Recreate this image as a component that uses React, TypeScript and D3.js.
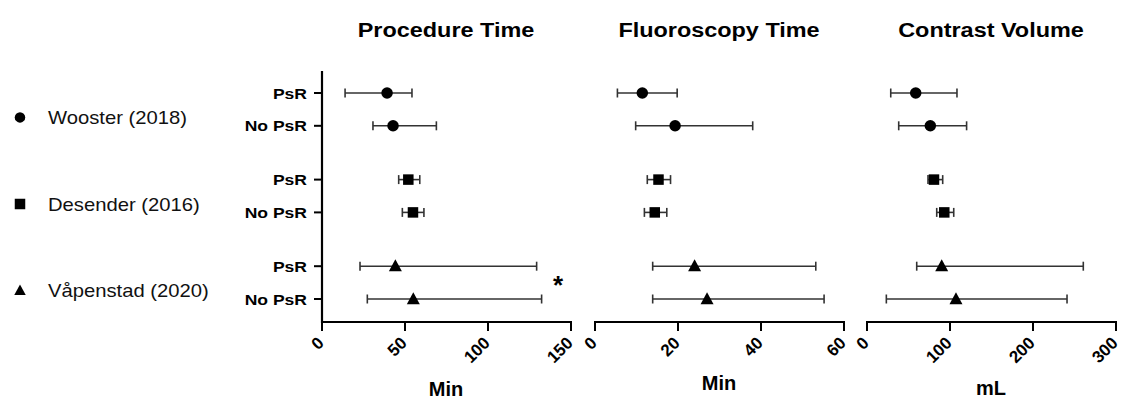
import React from "react";
import * as d3 from "d3";

const studies = ["Wooster (2018)", "Desender (2016)", "Våpenstad (2020)"];
const markerShapes = ["circle", "square", "triangle"];
const arms = ["PsR", "No PsR"];

const panelTitles = ["Procedure Time", "Fluoroscopy Time", "Contrast Volume"];
const axisTitles = ["Min", "Min", "mL"];
const panelMax = [150, 60, 300];
const panelTicks = [
  [0, 50, 100, 150],
  [0, 20, 40, 60],
  [0, 100, 200, 300],
];

// each row: [low, mean, high]; order: Wooster PsR, Wooster No PsR, Desender PsR, Desender No PsR, Våpenstad PsR, Våpenstad No PsR
const procedureTime = [
  [13.9, 39.2, 54.2],
  [30.7, 42.8, 68.9],
  [46.2, 52, 58.9],
  [48.4, 54.8, 61.4],
  [22.9, 44.2, 129.3],
  [27.3, 55, 132.3],
];
const fluoroscopyTime = [
  [5.4, 11.4, 19.8],
  [9.8, 19.3, 38],
  [12.6, 15.3, 18.2],
  [11.9, 14.4, 17.3],
  [13.9, 24, 53.2],
  [13.9, 27, 55.2],
];
const contrastVolume = [
  [28.6, 58.7, 108.4],
  [38.2, 76.3, 120],
  [73.5, 80.7, 91.2],
  [84, 93.1, 104.5],
  [59.9, 90, 260.6],
  [23.3, 107.2, 241],
];
const panelData = [procedureTime, fluoroscopyTime, contrastVolume];

const W = 1122;
const H = 401;
const panelX = [
  [322, 571],
  [595, 844],
  [867, 1116],
];
const axisY = 322;
const GROUP_STEP = 2.64;
const FONT = "'Liberation Sans', Arial, Helvetica, sans-serif";

const rowPos = (g: number, s: number) => g * GROUP_STEP + s;
const yScale = d3
  .scaleLinear()
  .domain([0, rowPos(2, 1)])
  .range([93, 299]);

function Marker({ shape, x, y, size }: { shape: string; x: number; y: number; size: number }) {
  if (shape === "circle") return <circle cx={x} cy={y} r={size / 2} fill="#000" />;
  if (shape === "square")
    return <rect x={x - size / 2} y={y - size / 2} width={size} height={size} fill="#000" />;
  const h = size * 0.95;
  return (
    <path
      d={`M${x},${y - h * 0.6} L${x + size / 2 + 0.5},${y + h * 0.45} L${x - size / 2 - 0.5},${y + h * 0.45} Z`}
      fill="#000"
    />
  );
}

export default function App() {
  const rows: { g: number; s: number }[] = [];
  studies.forEach((_, g) => arms.forEach((__, s) => rows.push({ g, s })));

  return (
    <svg
      width={W}
      height={H}
      style={{ position: "absolute", left: 0, top: 0, background: "#fff" }}
      fontFamily={FONT}
    >
      {/* Legend */}
      {studies.map((st, g) => {
        const cy = (yScale(rowPos(g, 0)) + yScale(rowPos(g, 1))) / 2 + 8;
        return (
          <g key={st}>
            <Marker shape={markerShapes[g]} x={20} y={cy} size={10.5} />
            <text
              transform={`translate(48,${cy + 6.5}) scale(1.15,1)`}
              fontSize={17.6}
              fill="#111"
            >
              {st}
            </text>
          </g>
        );
      })}

      {/* Y axis of first panel */}
      <line x1={panelX[0][0]} x2={panelX[0][0]} y1={71} y2={axisY + 1} stroke="#000" strokeWidth={2.2} />
      {rows.map(({ g, s }) => {
        const y = yScale(rowPos(g, s));
        return (
          <g key={`yt${g}${s}`}>
            <line x1={panelX[0][0] - 8} x2={panelX[0][0]} y1={y} y2={y} stroke="#000" strokeWidth={2} />
            <text
              transform={`translate(${panelX[0][0] - 15},${y + 5.5}) scale(1.17,1)`}
              textAnchor="end"
              fontSize={15}
              fontWeight="bold"
              fill="#000"
            >
              {arms[s]}
            </text>
          </g>
        );
      })}

      {panelData.map((data, p) => {
        const x = d3.scaleLinear().domain([0, panelMax[p]]).range(panelX[p]);
        const mid = [446, 719, 991][p];
        const axisTitleY = [396, 390, 395][p];
        return (
          <g key={`p${p}`}>
            <text
              transform={`translate(${mid},37) scale(1.16,1)`}
              textAnchor="middle"
              fontSize={20.2}
              fontWeight="bold"
              fill="#000"
            >
              {panelTitles[p]}
            </text>
            {/* x axis */}
            <line x1={x(0) - 1} x2={x(panelMax[p]) + 1} y1={axisY} y2={axisY} stroke="#000" strokeWidth={2.2} />
            {panelTicks[p].map((t) => (
              <g key={`t${t}`}>
                <line x1={x(t)} x2={x(t)} y1={axisY} y2={axisY + 9} stroke="#000" strokeWidth={2} />
                <text
                  transform={`translate(${x(t) + 3},${axisY + 22}) rotate(-45)`}
                  textAnchor="end"
                  fontSize={17}
                  fontWeight="bold"
                  fill="#000"
                >
                  {t}
                </text>
              </g>
            ))}
            <text x={mid} y={axisTitleY} textAnchor="middle" fontSize={20} fontWeight="bold" fill="#000">
              {axisTitles[p]}
            </text>
            {/* error bars */}
            {data.map((d, i) => {
              const { g } = rows[i];
              const y = yScale(rowPos(rows[i].g, rows[i].s));
              const [lo, m, hi] = d;
              return (
                <g key={`e${i}`}>
                  <line x1={x(lo)} x2={x(hi)} y1={y} y2={y} stroke="#333" strokeWidth={1.6} />
                  <line x1={x(lo)} x2={x(lo)} y1={y - 4.5} y2={y + 4.5} stroke="#333" strokeWidth={1.6} />
                  <line x1={x(hi)} x2={x(hi)} y1={y - 4.5} y2={y + 4.5} stroke="#333" strokeWidth={1.6} />
                  <Marker shape={markerShapes[g]} x={x(m)} y={y} size={g === 0 ? 11.5 : g === 1 ? 10.5 : 12} />
                </g>
              );
            })}
          </g>
        );
      })}

      {/* significance marker */}
      <text x={558} y={294} textAnchor="middle" fontSize={26} fontWeight="bold" fill="#000">
        *
      </text>
    </svg>
  );
}
